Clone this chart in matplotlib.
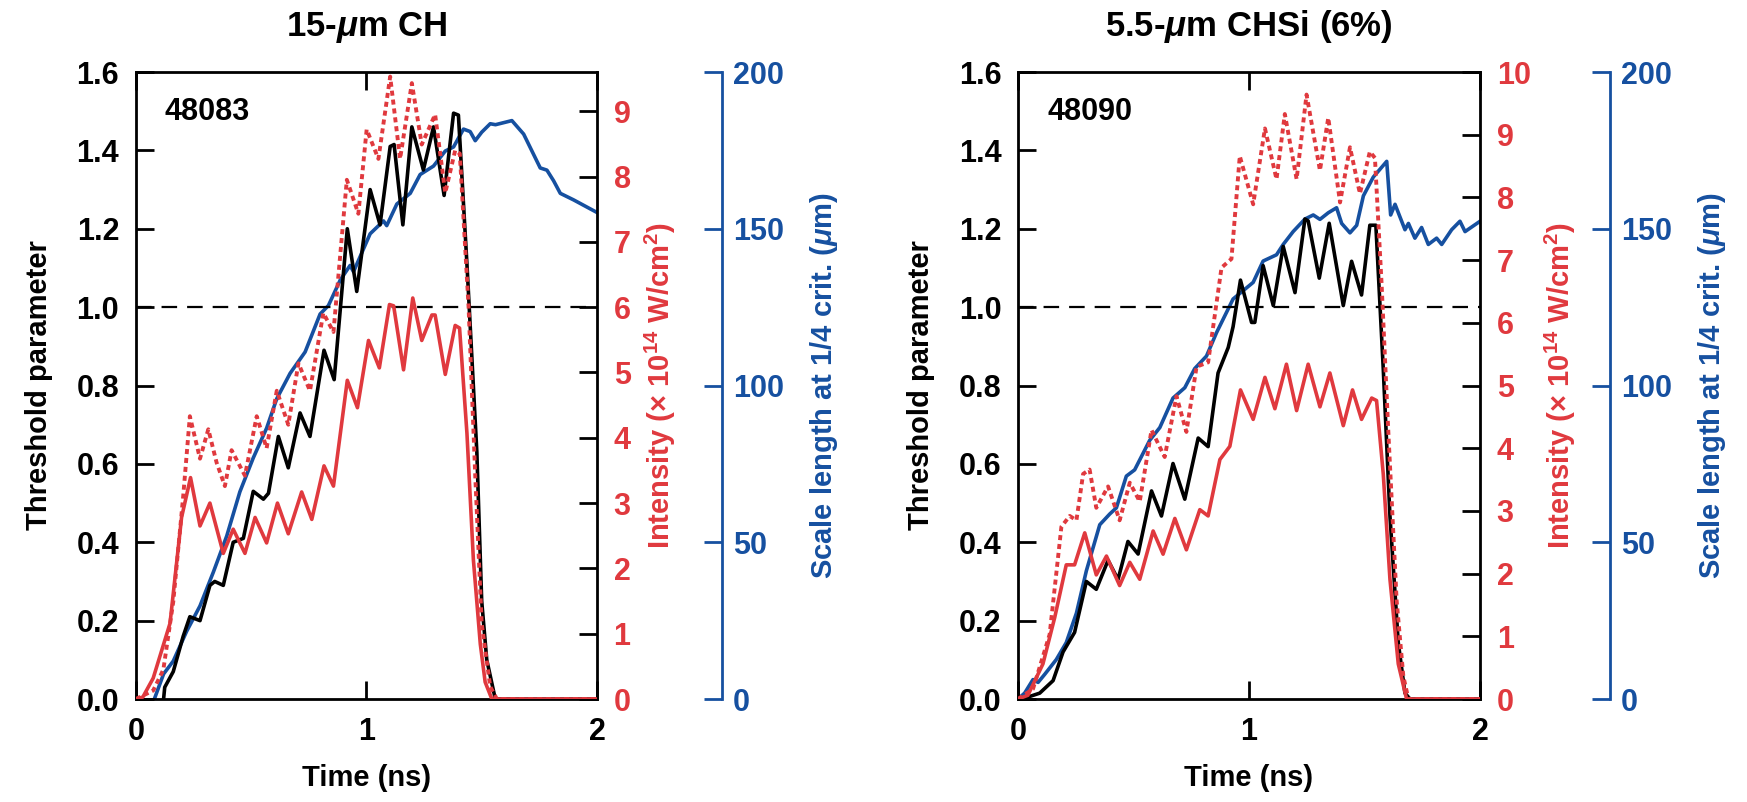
import numpy as np
import matplotlib.pyplot as plt

plt.rcParams['font.family'] = ['Liberation Sans', 'DejaVu Sans']
plt.rcParams['font.weight'] = 'bold'
plt.rcParams['axes.labelweight'] = 'bold'
plt.rcParams['axes.titleweight'] = 'bold'
plt.rcParams['mathtext.fontset'] = 'custom'
plt.rcParams['mathtext.rm'] = 'Liberation Sans:bold'
plt.rcParams['mathtext.it'] = 'Liberation Sans:italic:bold'
plt.rcParams['mathtext.bf'] = 'Liberation Sans:bold'

RED = '#e0393e'
BLUE = '#1650a0'
NARROW = ['Liberation Sans Narrow', 'Liberation Sans', 'DejaVu Sans']

# 15-um CH, shot 48083
ch_thr_t = [0.12, 0.125, 0.162, 0.205, 0.234, 0.278, 0.321, 0.342, 0.379, 0.422, 0.466, 0.509, 0.553,
            0.575, 0.618, 0.661, 0.712, 0.755, 0.816, 0.860, 0.917, 0.958, 1.016, 1.059, 1.103, 1.12,
            1.158, 1.197, 1.247, 1.291, 1.337, 1.378, 1.399, 1.436, 1.479, 1.50, 1.522, 1.559, 2.0]
ch_thr = [0.0, 0.03, 0.07, 0.16, 0.21, 0.20, 0.29, 0.30, 0.29, 0.40, 0.41, 0.53, 0.51,
          0.525, 0.67, 0.59, 0.73, 0.67, 0.89, 0.815, 1.20, 1.04, 1.30, 1.21, 1.41, 1.415,
          1.21, 1.46, 1.35, 1.46, 1.285, 1.495, 1.49, 1.11, 0.63, 0.25, 0.10, 0.0, 0.0]

ch_int_t = [0, 0.03, 0.075, 0.148, 0.198, 0.237, 0.278, 0.321, 0.379, 0.422, 0.473, 0.517, 0.567,
            0.614, 0.661, 0.719, 0.763, 0.816, 0.857, 0.917, 0.961, 1.009, 1.056, 1.10, 1.118, 1.161,
            1.201, 1.24, 1.284, 1.298, 1.342, 1.385, 1.404, 1.436, 1.464, 1.494, 1.515, 1.544, 2.0]
ch_int = [0, 0.03, 0.32, 1.16, 2.78, 3.39, 2.65, 3.0, 2.23, 2.60, 2.23, 2.78, 2.39,
          3.0, 2.53, 3.17, 2.75, 3.57, 3.26, 4.88, 4.46, 5.49, 5.07, 6.04, 6.02, 5.04,
          6.14, 5.49, 5.88, 5.88, 4.97, 5.72, 5.68, 4.07, 2.13, 0.84, 0.26, 0, 0]

ch_dot_t = [0, 0.075, 0.119, 0.162, 0.205, 0.234, 0.278, 0.314, 0.35, 0.386, 0.415, 0.473, 0.524,
            0.567, 0.611, 0.661, 0.705, 0.755, 0.813, 0.857, 0.915, 0.965, 1.001, 1.052, 1.103,
            1.146, 1.197, 1.24, 1.298, 1.342, 1.385, 1.405, 1.443, 1.472, 1.50, 1.537, 1.566, 2.0]
ch_dot = [0, 0.13, 0.45, 1.49, 3.10, 4.33, 3.68, 4.13, 3.62, 3.26, 3.81, 3.42, 4.33,
          3.84, 4.72, 4.20, 5.14, 4.72, 5.91, 5.62, 7.95, 7.43, 8.72, 8.27, 9.53,
          8.27, 9.43, 8.49, 8.95, 7.75, 8.40, 8.35, 6.01, 3.42, 1.16, 0.19, 0, 0]

ch_sl_t = [0.08, 0.12, 0.162, 0.22, 0.278, 0.336, 0.394, 0.451, 0.509, 0.567, 0.611, 0.669, 0.734,
           0.799, 0.835, 0.886, 0.929, 0.944, 1.016, 1.074, 1.088, 1.132, 1.19, 1.233, 1.291, 1.342,
           1.378, 1.421, 1.45, 1.472, 1.50, 1.537, 1.56, 1.631, 1.682, 1.754, 1.783, 1.812, 1.841,
           1.899, 2.0]
ch_sl = [0, 8, 12.1, 21.6, 29.7, 40.5, 52, 66.1, 76.9, 86.4, 95.8, 103.9, 110.7,
         122.8, 125.5, 133.6, 138.3, 136.3, 148.4, 152.5, 151, 157.9, 161.3, 167.3, 170, 174.8,
         176.1, 181.8, 181, 178.1, 180.8, 183.5, 183.2, 184.5, 180.2, 169.4, 168.7, 165.3, 161.3,
         159.2, 155.2]

# 5.5-um CHSi (6%), shot 48090
si_thr_t = [0, 0.043, 0.094, 0.152, 0.195, 0.245, 0.296, 0.339, 0.39, 0.433, 0.476, 0.52, 0.578,
            0.621, 0.671, 0.722, 0.78, 0.823, 0.866, 0.91, 0.931, 0.963, 1.011, 1.025, 1.061, 1.105,
            1.148, 1.199, 1.242, 1.256, 1.304, 1.347, 1.408, 1.444, 1.487, 1.523, 1.549, 1.581, 1.61,
            1.646, 1.675, 1.697, 2.0]
si_thr = [0, 0.005, 0.015, 0.047, 0.12, 0.17, 0.30, 0.28, 0.354, 0.305, 0.402, 0.37, 0.531,
          0.467, 0.601, 0.51, 0.666, 0.644, 0.832, 0.897, 0.95, 1.069, 0.961, 0.961, 1.106, 1.004,
          1.155, 1.037, 1.225, 1.22, 1.074, 1.214, 1.004, 1.117, 1.031, 1.209, 1.209, 0.843, 0.467,
          0.144, 0.015, 0, 0]

si_int_t = [0, 0.043, 0.108, 0.159, 0.209, 0.245, 0.289, 0.339, 0.383, 0.44, 0.484, 0.527, 0.585,
            0.628, 0.679, 0.729, 0.787, 0.823, 0.874, 0.917, 0.963, 1.018, 1.069, 1.112, 1.162,
            1.206, 1.256, 1.307, 1.35, 1.408, 1.448, 1.487, 1.531, 1.552, 1.581, 1.61, 1.646, 1.682, 2.0]
si_int = [0, 0.06, 0.56, 1.30, 2.14, 2.14, 2.65, 1.98, 2.28, 1.81, 2.18, 1.91, 2.68,
          2.31, 2.88, 2.38, 3.02, 2.92, 3.82, 4.03, 4.93, 4.46, 5.13, 4.63, 5.34,
          4.60, 5.34, 4.66, 5.20, 4.36, 4.93, 4.46, 4.80, 4.76, 3.59, 1.91, 0.56, 0, 0]

si_dot_t = [0, 0.065, 0.137, 0.188, 0.224, 0.253, 0.282, 0.31, 0.339, 0.39, 0.44, 0.484, 0.527,
            0.578, 0.635, 0.686, 0.729, 0.773, 0.823, 0.881, 0.924, 0.96, 1.018, 1.069, 1.119,
            1.155, 1.206, 1.249, 1.307, 1.343, 1.394, 1.437, 1.48, 1.523, 1.545, 1.574, 1.603,
            1.639, 1.668, 1.69, 2.0]
si_dot = [0, 0.16, 1.03, 2.75, 2.92, 2.85, 3.59, 3.66, 3.05, 3.39, 2.85, 3.45, 3.15,
          4.29, 3.86, 4.83, 4.26, 5.30, 5.37, 6.88, 7.02, 8.66, 7.89, 9.10, 8.29,
          9.33, 8.29, 9.64, 8.43, 9.27, 7.92, 8.80, 8.06, 8.73, 8.63, 6.61, 4.26,
          1.57, 0.36, 0, 0]

si_sl_t = [0, 0.029, 0.065, 0.087, 0.116, 0.166, 0.209, 0.253, 0.296, 0.354, 0.397, 0.426, 0.469,
           0.505, 0.57, 0.614, 0.671, 0.722, 0.765, 0.816, 0.859, 0.931, 1.018, 1.061, 1.119,
           1.148, 1.191, 1.242, 1.278, 1.307, 1.343, 1.379, 1.401, 1.437, 1.466, 1.495, 1.538,
           1.596, 1.613, 1.632, 1.675, 1.69, 1.718, 1.747, 1.776, 1.812, 1.834, 1.877, 1.913,
           1.935, 2.0]
si_sl = [0, 1.9, 6.2, 5.3, 7.9, 12.6, 18, 27.4, 40.9, 55.6, 59, 61, 71.1,
         73.1, 82.5, 86.6, 96, 99.3, 105.4, 109.4, 116.8, 127.6, 132.9, 139.7, 141.7,
         145, 149.1, 153.1, 154.4, 153, 155.1, 156.7, 151.7, 148.7, 151.1, 160.5, 166.5,
         171.5, 154.4, 157.8, 149.7, 151.7, 147, 150.4, 145, 147, 145, 149.7, 152.4,
         149.1, 152.4]

thr_ticks = [0.0, 0.2, 0.4, 0.6, 0.8, 1.0, 1.2, 1.4, 1.6]
sl_ticks = [0, 50, 100, 150, 200]


def draw_panel(rect, title, shot, red_max, thr_t, thr, int_t, inten, dot_t, dot, sl_t, sl, blue_pos):
    ax_blue = fig.add_axes(rect)
    ax = fig.add_axes(rect, sharex=ax_blue)
    ax_red = fig.add_axes(rect, sharex=ax_blue)
    ax.patch.set_visible(False)
    ax_red.patch.set_visible(False)

    # scale length axis (offset spine)
    ax_blue.plot(sl_t, sl, color=BLUE, lw=2.6)
    ax_blue.set_ylim(0, 200)
    ax_blue.set_yticks(sl_ticks)
    ax_blue.yaxis.tick_right()
    ax_blue.yaxis.set_label_position('right')
    for s in ['top', 'bottom', 'left']:
        ax_blue.spines[s].set_visible(False)
    ax_blue.spines['right'].set_position(('axes', blue_pos))
    ax_blue.spines['right'].set_color(BLUE)
    ax_blue.spines['right'].set_linewidth(2)
    ax_blue.tick_params(axis='y', direction='in', length=13, width=2, color=BLUE,
                        labelcolor=BLUE, labelsize=22, pad=8)
    ax_blue.tick_params(axis='x', bottom=False, labelbottom=False)
    ax_blue.set_ylabel('Scale length at 1/4 crit. ($\\mu$m)', color=BLUE, fontsize=21,
                       family=NARROW, fontweight='bold', labelpad=17)

    # threshold parameter
    ax.plot(thr_t, thr, color='black', lw=2.6)
    ax.axhline(1.0, color='black', lw=1.6, dashes=(7, 4.5))
    ax.set_xlim(0, 2)
    ax.set_ylim(0, 1.6)
    ax.set_xticks([0, 1, 2])
    ax.set_yticks(thr_ticks)
    ax.set_yticklabels(['%.1f' % v for v in thr_ticks])
    ax.tick_params(direction='in', length=13, width=2, labelsize=22, top=True, right=False)
    ax.tick_params(axis='y', pad=12)
    ax.tick_params(axis='x', pad=13)
    for s in ax.spines.values():
        s.set_linewidth(2)
    ax.set_ylabel('Threshold parameter', fontsize=21, family=NARROW, fontweight='bold', labelpad=17)
    ax.set_xlabel('Time (ns)', fontsize=21, fontweight='bold', labelpad=12)
    ax.set_title(title, fontsize=25, fontweight='bold', pad=26)
    ax.text(0.063, 0.937, shot, transform=ax.transAxes, fontsize=22, fontweight='bold',
            va='center', ha='left')

    # intensity
    ax_red.plot(int_t, inten, color=RED, lw=2.6)
    ax_red.plot(dot_t, dot, color=RED, lw=2.8, dashes=(1.3, 1.0))
    ax_red.set_ylim(0, red_max)
    ax_red.set_yticks(range(0, int(red_max) + 1))
    ax_red.yaxis.tick_right()
    ax_red.yaxis.set_label_position('right')
    ax_red.tick_params(axis='y', direction='in', length=13, width=2, color='black',
                       labelcolor=RED, labelsize=22, pad=12)
    ax_red.tick_params(axis='x', bottom=False, labelbottom=False)
    for s in ax_red.spines.values():
        s.set_visible(False)
    ax_red.set_ylabel('Intensity (× 10$^{14}$ W/cm$^2$)', color=RED, fontsize=21,
                      family=NARROW, fontweight='bold', labelpad=9)


fig = plt.figure(figsize=(17.47, 8.02), dpi=100)
draw_panel([0.0778, 0.1284, 0.2639, 0.7818], '15-$\\mu$m CH', '48083', 9.6,
           ch_thr_t, ch_thr, ch_int_t, ch_int, ch_dot_t, ch_dot, ch_sl_t, ch_sl, 1.271)
draw_panel([0.5827, 0.1284, 0.2645, 0.7818], '5.5-$\\mu$m CHSi (6%)', '48090', 10,
           si_thr_t, si_thr, si_int_t, si_int, si_dot_t, si_dot, si_sl_t, si_sl, 1.281)

fig.savefig('out.png', dpi=100)
